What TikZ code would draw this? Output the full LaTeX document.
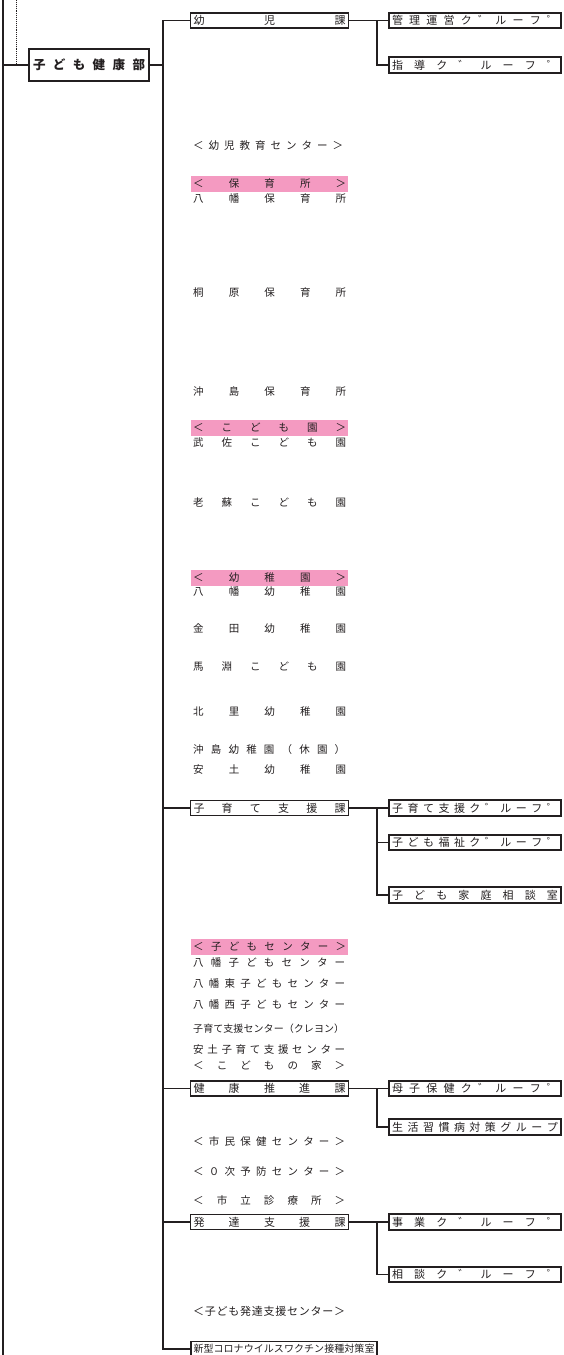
\documentclass[tikz,border=0pt]{standalone}
\usepackage{fontspec}
\setmainfont{Noto Sans CJK JP}
\definecolor{pinkbg}{RGB}{244,154,193}
\definecolor{ink}{RGB}{35,31,32}
\def\spx#1#2{\hbox to #1{\spfirst#2\relax}}
\def\spfirst#1{#1\spnext}
\def\spnext#1{\ifx#1\relax\else\hfil#1\expandafter\spnext\fi}
\tikzset{
  deptbox/.style={draw=ink, line width=1.6pt, inner xsep=2pt, inner ysep=0pt, minimum height=15pt, minimum width=158pt, fill=white, font=\fontsize{11}{12}\selectfont},
  grpbox/.style={draw=ink, line width=1.6pt, inner xsep=2pt, inner ysep=0pt, minimum height=15.5pt, minimum width=172pt, fill=white, font=\fontsize{11}{12}\selectfont},
  band/.style={fill=pinkbg, inner xsep=2pt, inner ysep=0pt, minimum height=16pt, anchor=west},
  item/.style={inner sep=0pt, anchor=west},
  conn/.style={draw=ink, line width=1.6pt},
}
\begin{document}
\begin{tikzpicture}[x=1pt,y=-1pt, every node/.style={font=\fontsize{10.5}{12}\selectfont, text=ink}]
\useasboundingbox (0,0) rectangle (563,1355);
% coordinates for trunks
\coordinate (L) at (3,0);
\coordinate (Lbot) at (3,1355);
\coordinate (D0) at (16,0);
\coordinate (T) at (163,0);
\coordinate (S) at (377,0);

% department head
\node[draw=ink, line width=2.8pt, minimum width=120pt, minimum height=32pt, inner xsep=3pt, inner ysep=0pt, fill=white, font=\fontsize{12.5}{14}\selectfont\bfseries] (bu) at (89,65) {\spx{112pt}{子ども健康部}};

% sections
\node[deptbox] (yoji) at (269.5,20.5) {\spx{152pt}{幼児課}};
\node[deptbox] (kosodate) at (269.5,808) {\spx{152pt}{子育て支援課}};
\node[deptbox] (kenko) at (269.5,1088.5) {\spx{152pt}{健康推進課}};
\node[deptbox] (hattatsu) at (269.5,1222) {\spx{152pt}{発達支援課}};
\node[draw=ink, line width=1.6pt, inner xsep=2pt, inner ysep=0pt, minimum height=15pt, minimum width=186pt, fill=white, font=\fontsize{10}{12}\selectfont] (corona) at (284,1349) {\spx{181pt}{新型コロナウイルスワクチン接種対策室}};

% groups
\node[grpbox] (kanri) at (475,20.5) {\spx{166pt}{管理運営ク゛ルーフ゜}};
\node[grpbox] (shido) at (475,65) {\spx{166pt}{指導ク゛ルーフ゜}};
\node[grpbox] (kshien) at (475,808) {\spx{166pt}{子育て支援ク゛ルーフ゜}};
\node[grpbox] (fukushi) at (475,842.5) {\spx{166pt}{子ども福祉ク゛ルーフ゜}};
\node[grpbox] (soudanshitsu) at (475,895) {\spx{166pt}{子ども家庭相談室}};
\node[grpbox] (boshi) at (475,1088.5) {\spx{166pt}{母子保健ク゛ルーフ゜}};
\node[grpbox] (seikatsu) at (475,1127) {\spx{166pt}{生活習慣病対策グループ}};
\node[grpbox] (jigyo) at (475,1222) {\spx{166pt}{事業ク゛ルーフ゜}};
\node[grpbox] (soudan) at (475,1274.5) {\spx{166pt}{相談ク゛ルーフ゜}};

% pink headers
\node[band] (hdr1) at (191,184) {\spx{153pt}{＜保育所＞}};
\node[band] (hdr2) at (191,428) {\spx{153pt}{＜こども園＞}};
\node[band] (hdr3) at (191,577.5) {\spx{153pt}{＜幼稚園＞}};
\node[band] (hdr4) at (191,947) {\spx{153pt}{＜子どもセンター＞}};

% facility list
\node[item] (t01) at (193,146) {\spx{150pt}{＜幼児教育センター＞}};
\node[item] (t02) at (193,199) {\spx{153pt}{八幡保育所}};
\node[item] (t03) at (193,293) {\spx{153pt}{桐原保育所}};
\node[item] (t04) at (193,391) {\spx{153pt}{沖島保育所}};
\node[item] (t05) at (193,443) {\spx{153pt}{武佐こども園}};
\node[item] (t06) at (193,503) {\spx{153pt}{老蘇こども園}};
\node[item] (t07) at (193,592) {\spx{153pt}{八幡幼稚園}};
\node[item] (t08) at (193,629) {\spx{153pt}{金田幼稚園}};
\node[item] (t09) at (193,667) {\spx{153pt}{馬淵こども園}};
\node[item] (t10) at (193,712) {\spx{153pt}{北里幼稚園}};
\node[item] (t11) at (193,749) {\spx{152pt}{沖島幼稚園（休園）}};
\node[item] (t12) at (193,770) {\spx{153pt}{安土幼稚園}};
\node[item] (t13) at (193,963) {\spx{152pt}{八幡子どもセンター}};
\node[item] (t14) at (193,984) {\spx{152pt}{八幡東子どもセンター}};
\node[item] (t15) at (193,1005) {\spx{152pt}{八幡西子どもセンター}};
\node[item, font=\fontsize{10}{12}\selectfont] (t16) at (193,1029) {\spx{151pt}{子育て支援センター（クレヨン）}};
\node[item] (t17) at (193,1050) {\spx{152pt}{安土子育て支援センター}};
\node[item] (t18) at (193,1066) {\spx{152pt}{＜こどもの家＞}};
\node[item] (t19) at (193,1141) {\spx{152pt}{＜市民保健センター＞}};
\node[item] (t20) at (193,1171) {\spx{152pt}{＜０次予防センター＞}};
\node[item] (t21) at (193,1200) {\spx{152pt}{＜市立診療所＞}};
\node[item, font=\fontsize{11}{12}\selectfont] (t22) at (193,1311) {\spx{152pt}{＜子ども発達支援センター＞}};

% connectors
\draw[conn] (L) -- (Lbot);
\draw[ink, line width=0.9pt, densely dotted] (D0) -- (D0 |- bu.west);
\draw[conn] (bu.west) -- (bu.west -| L);
\draw[conn] (bu.east) -- (bu.east -| T);
\draw[conn] (yoji.west) -- (yoji.west -| T) -- (corona.west -| T) -- (corona.west);
\draw[conn] (kosodate.west) -- (kosodate.west -| T);
\draw[conn] (kenko.west) -- (kenko.west -| T);
\draw[conn] (hattatsu.west) -- (hattatsu.west -| T);

\draw[conn] (yoji.east) -- (kanri.west);
\draw[conn] (kanri.west -| S) |- (shido.west);
\draw[conn] (kosodate.east) -- (kshien.west);
\draw[conn] (kshien.west -| S) |- (soudanshitsu.west);
\draw[conn] (fukushi.west -| S) -- (fukushi.west);
\draw[conn] (kenko.east) -- (boshi.west);
\draw[conn] (boshi.west -| S) |- (seikatsu.west);
\draw[conn] (hattatsu.east) -- (jigyo.west);
\draw[conn] (jigyo.west -| S) |- (soudan.west);
\end{tikzpicture}
\end{document}
